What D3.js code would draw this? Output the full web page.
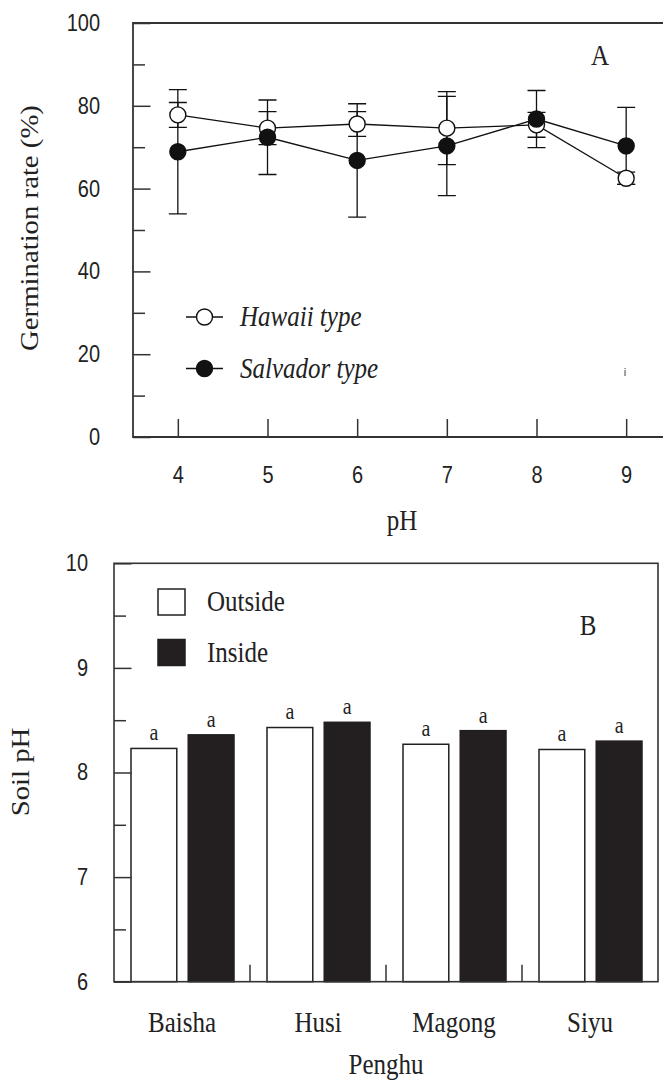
<!DOCTYPE html>
<html>
<head>
<meta charset="utf-8">
<script src="https://cdn.jsdelivr.net/npm/d3@7"></script>
<style>
  body { margin: 0; background: #fff; }
  .serif { font-family: "Liberation Serif", "Times New Roman", serif; }
  .sans { font-family: "Liberation Sans", Arial, sans-serif; }
  .tall { transform-box: fill-box; transform-origin: center; transform: scaleY(1.15); }
</style>
</head>
<body>
<script>
// ---- panel A: germination rate vs pH
const phLevels = [4, 5, 6, 7, 8, 9];
const hawaiiMean = [77.8, 74.6, 75.6, 74.6, 75.4, 62.5];
const hawaiiErr = [3.0, 4.0, 3.0, 8.8, 3.0, 1.5];
const salvadorMean = [68.9, 72.4, 66.8, 70.3, 76.8, 70.3];
const salvadorErr = [15.0, 9.0, 13.7, 12.0, 6.9, 9.3];
const rateTicks = [0, 20, 40, 60, 80, 100];
const rateMinor = [10, 30, 50, 70, 90];

// ---- panel B: soil pH by site
const sites = ["Baisha", "Husi", "Magong", "Siyu"];
const locations = ["Outside", "Inside"];
const outsidePH = [8.23, 8.43, 8.27, 8.22];
const insidePH = [8.36, 8.48, 8.40, 8.30];
const outsideSig = ["a", "a", "a", "a"];
const insideSig = ["a", "a", "a", "a"];
const soilTicks = [6, 7, 8, 9, 10];
const soilMinor = [6.5, 7.5, 8.5, 9.5];

const W = 663, H = 1086, ink = "#333", barInk = "#231f20";
const SANS = '"Liberation Sans", Arial, sans-serif';
const SERIF = '"Liberation Serif", "Times New Roman", serif';

const svg = d3.select("body").append("svg")
    .attr("width", W).attr("height", H);

// d3.axis writes its own font attrs, so set ours afterwards
const styleAxis = (family, size) => g => {
  g.attr("font-family", family).attr("font-size", size);
  g.select(".domain").remove();
  g.selectAll(".tick line").attr("stroke", ink).attr("stroke-width", 1.5);
  g.selectAll(".tick text").attr("fill", "#222").classed("tall", true);
}

// ================= A =================
const xA = d3.scaleLinear().domain([3.5, 9.5]).range([133, 671]);
const yA = d3.scaleLinear().domain([0, 100]).range([437, 23]);
const gA = svg.append("g");

gA.append("path")
    .attr("d", `M${W},${yA(100)}H${xA(3.5)}V${yA(0)}H${W}`)
    .attr("fill", "none").attr("stroke", ink).attr("stroke-width", 1.8);

gA.append("g")
    .attr("transform", `translate(${xA(3.5)},0)`)
    .call(d3.axisLeft(yA).tickValues(rateTicks).tickSize(-17.5).tickPadding(33).tickFormat(d3.format("d")))
    .call(styleAxis(SANS, 20));
gA.append("g")
    .attr("transform", `translate(${xA(3.5)},0)`)
    .call(d3.axisLeft(yA).tickValues(rateMinor).tickSize(-12).tickFormat(""))
    .call(styleAxis(SANS, 20));
gA.append("g")
    .attr("transform", `translate(0,${yA(0)})`)
    .call(d3.axisBottom(xA).tickValues(phLevels).tickSize(-18).tickPadding(31).tickFormat(d3.format("d")))
    .call(styleAxis(SANS, 20));

const seriesA = [
  {name: "Hawaii type", mean: hawaiiMean, err: hawaiiErr, fill: "#fff"},
  {name: "Salvador type", mean: salvadorMean, err: salvadorErr, fill: "#111"}
];

// error bars first, then lines, then markers
seriesA.forEach(s => {
  const eb = gA.append("g").attr("stroke", "#111").attr("stroke-width", 1.3);
  phLevels.forEach((p, i) => {
    const cx = xA(p), hi = yA(s.mean[i] + s.err[i]), lo = yA(s.mean[i] - s.err[i]);
    eb.append("path").attr("d", `M${cx},${hi}V${lo}M${cx - 9},${hi}H${cx + 9}M${cx - 9},${lo}H${cx + 9}`);
  });
});
const line = d3.line().x((d, i) => xA(phLevels[i])).y(d => yA(d));
seriesA.forEach(s => {
  gA.append("path").attr("d", line(s.mean))
      .attr("fill", "none").attr("stroke", "#111").attr("stroke-width", 1.3);
});
seriesA.forEach(s => {
  gA.append("g").selectAll("circle").data(s.mean).join("circle")
      .attr("cx", (d, i) => xA(phLevels[i])).attr("cy", d => yA(d)).attr("r", 8)
      .attr("fill", s.fill).attr("stroke", "#111").attr("stroke-width", 1.4);
});

// legend A
seriesA.forEach((s, i) => {
  const ly = 317 + i * 51.5;
  const lg = gA.append("g");
  lg.append("path").attr("d", `M186,${ly}H223`).attr("stroke", "#111").attr("stroke-width", 1.3);
  lg.append("circle").attr("cx", 204.5).attr("cy", ly).attr("r", 8)
      .attr("fill", s.fill).attr("stroke", "#111").attr("stroke-width", 1.4);
  lg.append("text").attr("class", "serif tall").attr("x", 240).attr("y", ly).attr("dy", "0.33em")
      .attr("font-size", 25).attr("font-style", "italic").attr("fill", "#222").text(s.name);
});

gA.append("text").attr("class", "serif tall").attr("x", 600).attr("y", 64)
    .attr("text-anchor", "middle").attr("font-size", 25).attr("fill", "#222").text("A");
gA.append("text").attr("class", "sans").attr("x", 625).attr("y", 376)
    .attr("text-anchor", "middle").attr("font-size", 11).attr("fill", "#444").text("i");
gA.append("text").attr("class", "serif tall").attr("x", (xA.range()[0] + xA.range()[1]) / 2).attr("y", 529)
    .attr("text-anchor", "middle").attr("font-size", 25).attr("fill", "#222").text("pH");
gA.append("g").attr("transform", "translate(29,228) scale(1,1.15) rotate(-90)")
  .append("text").attr("class", "serif").attr("text-anchor", "middle").attr("dy", "0.35em")
    .attr("font-size", 25).attr("fill", "#222").text("Germination rate (%)");

// ================= B =================
const xB = d3.scaleBand().domain(sites).range([114, 658]);
const xSub = d3.scaleBand().domain(locations).range([17, 120]).paddingInner(0.2);
const yB = d3.scaleLinear().domain([6, 10]).range([981.7, 563.3]);
const gB = svg.append("g");

const barsData = sites.map((s, i) => [
  {site: s, loc: "Outside", v: outsidePH[i], sig: outsideSig[i]},
  {site: s, loc: "Inside", v: insidePH[i], sig: insideSig[i]}
]).flat();

gB.selectAll("rect.bar").data(barsData).join("rect").attr("class", "bar")
    .attr("x", d => xB(d.site) + xSub(d.loc)).attr("width", xSub.bandwidth())
    .attr("y", d => yB(d.v)).attr("height", d => yB(6) - yB(d.v))
    .attr("fill", d => d.loc === "Inside" ? barInk : "#fff")
    .attr("stroke", barInk).attr("stroke-width", 1.5);

gB.selectAll("text.sig").data(barsData).join("text").attr("class", "sig serif tall")
    .attr("x", d => xB(d.site) + xSub(d.loc) + xSub.bandwidth() / 2)
    .attr("y", d => yB(d.v) - 9).attr("text-anchor", "middle")
    .attr("font-size", 20).attr("fill", "#222").text(d => d.sig);

gB.append("rect").attr("x", 114).attr("y", yB(10)).attr("width", 658 - 114).attr("height", yB(6) - yB(10))
    .attr("fill", "none").attr("stroke", ink).attr("stroke-width", 1.6);

gB.append("g")
    .attr("transform", "translate(114,0)")
    .call(d3.axisLeft(yB).tickValues(soilTicks).tickSize(-17.5).tickPadding(26).tickFormat(d3.format("d")))
    .call(styleAxis(SANS, 20));
gB.append("g")
    .attr("transform", "translate(114,0)")
    .call(d3.axisLeft(yB).tickValues(soilMinor).tickSize(-12).tickFormat(""))
    .call(styleAxis(SANS, 20));

// separators between site groups
gB.append("g").selectAll("path").data(sites.slice(1)).join("path")
    .attr("d", d => `M${xB(d)},${yB(6)}v-17`).attr("stroke", ink).attr("stroke-width", 1.5);

gB.append("g")
    .attr("transform", `translate(0,${yB(6)})`)
    .call(d3.axisBottom(xB).tickSize(0).tickPadding(31))
    .call(styleAxis(SERIF, 25));

// legend B
locations.forEach((l, i) => {
  const ly = 589 + i * 50.5;
  gB.append("rect").attr("x", 158).attr("y", ly).attr("width", 27).attr("height", 26)
      .attr("fill", l === "Inside" ? barInk : "#fff").attr("stroke", barInk).attr("stroke-width", 1.5);
  gB.append("text").attr("class", "serif tall").attr("x", 207).attr("y", ly + 13).attr("dy", "0.33em")
      .attr("font-size", 25).attr("fill", "#222").text(l);
});

gB.append("text").attr("class", "serif tall").attr("x", 588).attr("y", 634)
    .attr("text-anchor", "middle").attr("font-size", 25).attr("fill", "#222").text("B");
gB.append("text").attr("class", "serif tall").attr("x", 386).attr("y", 1073)
    .attr("text-anchor", "middle").attr("font-size", 25).attr("fill", "#222").text("Penghu");
gB.append("g").attr("transform", "translate(20,772) scale(1,1.15) rotate(-90)")
  .append("text").attr("class", "serif").attr("text-anchor", "middle").attr("dy", "0.35em")
    .attr("font-size", 25).attr("fill", "#222").text("Soil pH");
</script>
</body>
</html>
